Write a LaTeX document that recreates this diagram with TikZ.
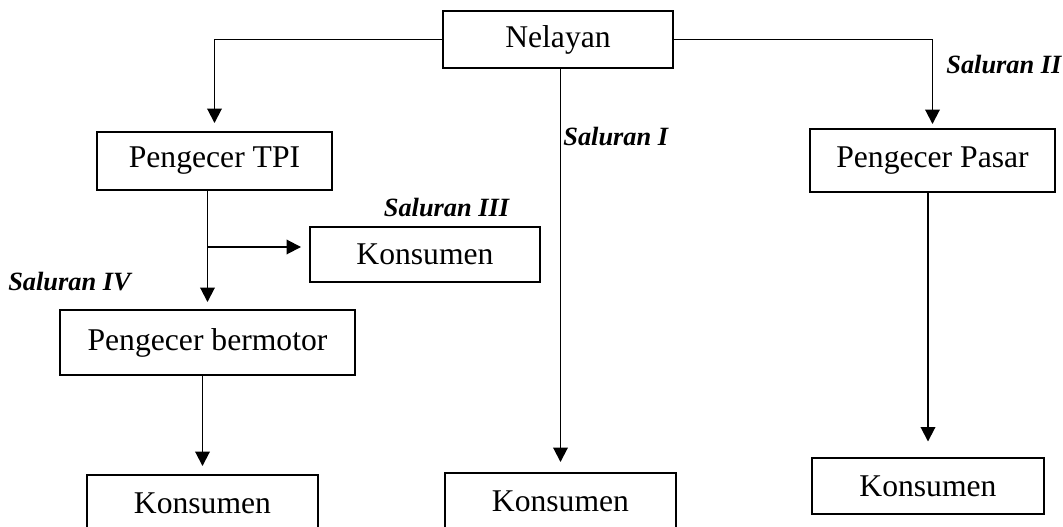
\documentclass[tikz,border=0pt]{standalone}
\usepackage{fontspec}
\setmainfont{Liberation Serif}
\usetikzlibrary{arrows.meta,positioning,calc}

\begin{document}
\begin{tikzpicture}[
    box/.style={draw, line width=1.1pt, inner sep=0pt, minimum height=1.14cm, font=\fontsize{18}{21}\selectfont},
    flow/.style={-{Triangle[length=2.9mm,width=2.9mm]}, line width=1.1pt, shorten >=1.6mm},
    chan/.style={inner sep=0pt, font=\fontsize{15}{18}\selectfont\bfseries\itshape}
]
\useasboundingbox (0,0) rectangle (21.26,-10.54);

% ---- Boxes ----
\node[box, minimum width=4.6cm] (nelayan) at (11.16,-0.79) {Nelayan};
\node[box, minimum width=4.7cm, minimum height=1.16cm] (tpi) at (4.29,-3.22) {Pengecer TPI};
\node[box, minimum width=4.9cm, minimum height=1.26cm] (pasar) at (18.65,-3.21) {Pengecer Pasar};
\node[box, minimum width=4.6cm, minimum height=1.1cm] (kons3) at (8.5,-5.09) {Konsumen};
\node[box, minimum width=5.9cm, minimum height=1.3cm] (bermotor) at (4.15,-6.85) {Pengecer bermotor};

% bottom row (cut by the page edge)
\node[box, minimum width=4.62cm, minimum height=1.12cm] (kons4) at (4.05,-10.06) {Konsumen};
\node[box, minimum width=4.62cm, minimum height=1.12cm] (kons1) at (11.21,-10.02) {Konsumen};
\node[box, minimum width=4.64cm, minimum height=1.12cm] (kons2) at (18.56,-9.72) {Konsumen};

% ---- Channels ----
\draw[flow] (nelayan.west) -| (tpi.north);
\draw[flow, shorten >=0.8mm] (nelayan.east) -| (pasar.north);
\draw[flow, shorten >=2mm] (kons1.north |- nelayan.south) -- (kons1.north);

\draw[flow, shorten >=1.4mm] (bermotor.north |- tpi.south) -- (bermotor.north);
\coordinate (split) at ($(bermotor.north |- 0,-4.94)$);
\draw[flow] (split) -- (split -| kons3.west);

\draw[flow] (kons4.north |- bermotor.south) -- (kons4.north);
\draw[flow, shorten >=3.1mm] (kons2.north |- pasar.south) -- (kons2.north);

% ---- Labels ----
\node[chan, anchor=west] (sal1) at (11.26,-2.74) {Saluran I};
\node[chan, anchor=west] (sal2) at (18.92,-1.3) {Saluran II};
\node[chan] (sal3) at (8.93,-4.16) {Saluran III};
\node[chan] (sal4) at (1.39,-5.64) {Saluran IV};

\end{tikzpicture}
\end{document}
